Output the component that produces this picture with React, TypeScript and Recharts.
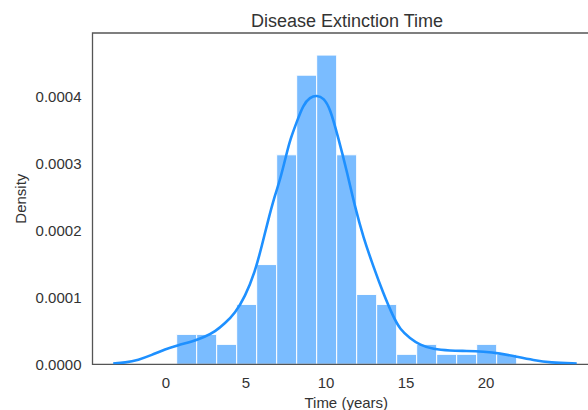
import React from 'react';
import { ComposedChart, Line, XAxis, YAxis, ReferenceArea } from 'recharts';

// Histogram bins (years) and densities
const binEdges = [0.667, 1.917, 3.167, 4.417, 5.667, 6.917, 8.167, 9.417, 10.667, 11.917, 13.167, 14.417, 15.667, 16.917, 18.167, 19.417, 20.667, 21.917];
const binDensity = [0.0000447, 0.0000447, 0.0000298, 0.0000895, 0.000149, 0.000313, 0.000432, 0.000462, 0.000313, 0.0001044, 0.0000895, 0.0000149, 0.0000298, 0.0000149, 0.0000149, 0.0000298, 0.0000149];

// KDE curve points
const kdeX = [-3.3, -2.56, -1.73, -0.89, -0.06, 0.77, 1.61, 2.44, 3.06, 3.69, 4.31, 4.94, 5.56, 5.98, 6.39, 6.81, 7.125, 7.54, 7.75, 8.17, 8.58, 9.0, 9.42, 9.85, 10.25, 10.77, 11.29, 11.81, 12.33, 12.96, 13.58, 14.2, 14.625, 15.25, 15.875, 16.7, 17.75, 18.79, 19.83, 20.875, 21.92, 22.96, 24.0, 25.67];
const kdeY = [0.0000012, 0.0000024, 0.0000064, 0.0000139, 0.0000224, 0.0000288, 0.0000338, 0.0000412, 0.0000487, 0.0000612, 0.0000762, 0.000101, 0.000138, 0.000176, 0.000216, 0.000253, 0.000275, 0.000315, 0.000335, 0.000362, 0.000388, 0.000399, 0.000402, 0.000398, 0.000383, 0.000338, 0.00029, 0.000235, 0.00019, 0.000146, 0.000106, 0.0000711, 0.0000523, 0.0000388, 0.0000288, 0.0000224, 0.0000204, 0.0000199, 0.0000189, 0.0000164, 0.0000114, 0.0000064, 0.0000024, 0.0000012];

const xTicks = [0, 5, 10, 15, 20];
const yTicks = [0, 0.0001, 0.0002, 0.0003, 0.0004];
const xDomain = [-4.594, 27.125];
const yDomain = [0, 0.000495];

const kdeData = kdeX.map((t, i) => ({ t, d: kdeY[i] }));

const FONT = '"Liberation Sans", Arial, sans-serif';
const TEXT = '#333333';

export default function App() {
  return (
    <div style={{ position: 'fixed', left: 0, top: 0, width: 588, height: 410, overflow: 'hidden', background: '#fff', fontFamily: FONT }}>
      <div style={{ position: 'absolute', left: 147, top: 11.5, width: 400, textAlign: 'center', fontSize: 18, lineHeight: '18px', color: TEXT, fontFamily: FONT }}>
        Disease Extinction Time
      </div>
      <div style={{ position: 'absolute', left: 0, top: 0 }}>
        <ComposedChart width={610} height={410} data={kdeData} margin={{ top: 33, right: 10, left: 0, bottom: 0 }}>
          <XAxis
            type="number"
            dataKey="t"
            domain={xDomain}
            ticks={xTicks}
            allowDataOverflow
            axisLine={false}
            tickLine={false}
            tickSize={0}
            tickMargin={13}
            height={45.7}
            tick={{ fontSize: 15, fill: TEXT, fontFamily: FONT }}
            label={{ value: 'Time (years)', position: 'insideBottom', offset: 2.5, fontSize: 15, fill: TEXT, fontFamily: FONT }}
          />
          <YAxis
            type="number"
            domain={yDomain}
            ticks={yTicks}
            allowDataOverflow
            axisLine={false}
            tickLine={false}
            tickSize={0}
            tickMargin={11}
            width={92.5}
            tickFormatter={(v: number) => v.toFixed(4)}
            tick={{ fontSize: 15, fill: TEXT, fontFamily: FONT }}
            label={{ value: 'Density', angle: -90, position: 'center', dx: -26, fontSize: 15, fill: TEXT, fontFamily: FONT }}
          />
          {binDensity.map((d, i) => (
            <ReferenceArea
              key={i}
              x1={binEdges[i]}
              x2={binEdges[i + 1]}
              y1={0}
              y2={d}
              fill="#7abcff"
              fillOpacity={1}
              stroke="#ffffff"
              strokeWidth={1}
              ifOverflow="visible"
            />
          ))}
          <Line
            type="basis"
            dataKey="d"
            stroke="#1e90ff"
            strokeWidth={2.6}
            dot={false}
            activeDot={false}
            isAnimationActive={false}
          />
          <ReferenceArea
            x1={xDomain[0]}
            x2={xDomain[1]}
            y1={yDomain[0]}
            y2={yDomain[1]}
            fill="none"
            fillOpacity={0}
            stroke="#555555"
            strokeWidth={1.3}
            ifOverflow="visible"
          />
        </ComposedChart>
      </div>
    </div>
  );
}
